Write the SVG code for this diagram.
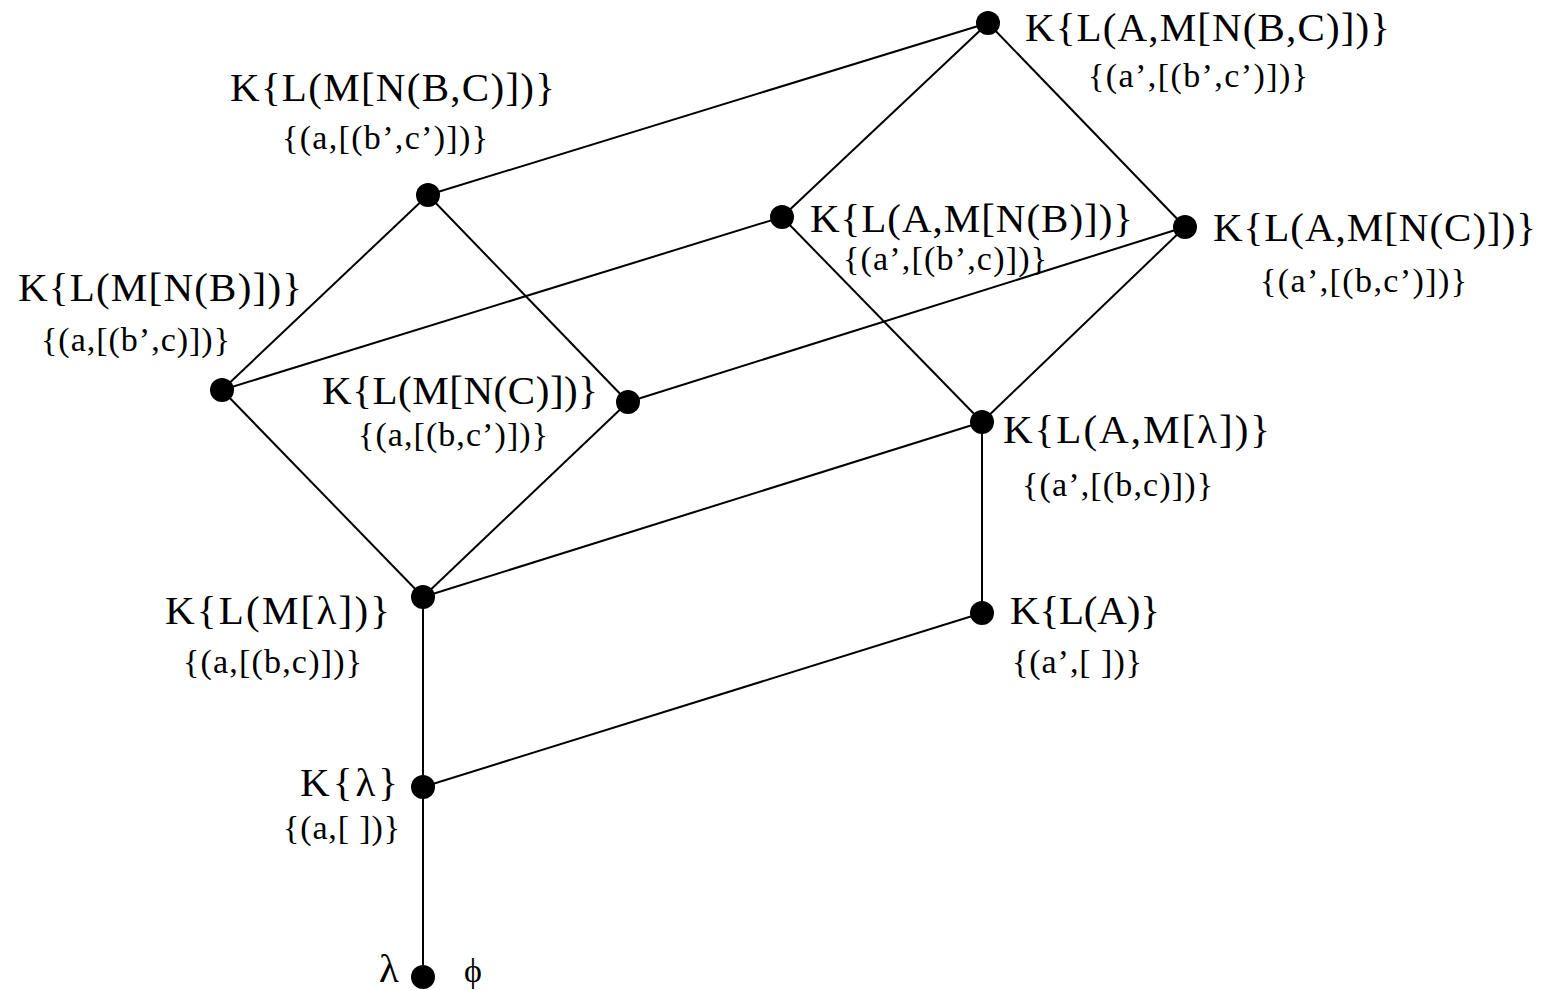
<svg xmlns="http://www.w3.org/2000/svg" width="1545" height="990" viewBox="0 0 1545 990">
  <style>
    .edge { stroke: #000; stroke-width: 2; fill: none; }
    .dot { fill: #000; }
    .lbl { font-family: "Liberation Serif", "Times New Roman", serif; font-size: 41px; fill: #000; }
    .sub { font-family: "Liberation Serif", "Times New Roman", serif; font-size: 34px; fill: #000; }
  </style>
  <rect width="1545" height="990" fill="#fff"/>

  <!-- lattice edges -->
  <g id="edges">
    <line class="edge" x1="988" y1="23" x2="428" y2="195"/>
    <line class="edge" x1="988" y1="23" x2="782" y2="217"/>
    <line class="edge" x1="988" y1="23" x2="1185" y2="227"/>
    <line class="edge" x1="428" y1="195" x2="222" y2="390"/>
    <line class="edge" x1="428" y1="195" x2="628" y2="402"/>
    <line class="edge" x1="782" y1="217" x2="222" y2="390"/>
    <line class="edge" x1="782" y1="217" x2="982" y2="422"/>
    <line class="edge" x1="1185" y1="227" x2="628" y2="402"/>
    <line class="edge" x1="1185" y1="227" x2="982" y2="422"/>
    <line class="edge" x1="222" y1="390" x2="423" y2="597"/>
    <line class="edge" x1="628" y1="402" x2="423" y2="597"/>
    <line class="edge" x1="982" y1="422" x2="423" y2="597"/>
    <line class="edge" x1="982" y1="422" x2="982" y2="613"/>
    <line class="edge" x1="423" y1="597" x2="423" y2="787"/>
    <line class="edge" x1="982" y1="613" x2="423" y2="787"/>
    <line class="edge" x1="423" y1="787" x2="423" y2="977"/>
  </g>

  <g id="n-abc">
    <circle class="dot" cx="988" cy="23" r="12"/>
    <text class="lbl" x="1025" y="41" textLength="365" lengthAdjust="spacing">K{L(A,M[N(B,C)])}</text>
    <text class="sub" x="1088" y="87" textLength="220" lengthAdjust="spacing">{(a’,[(b’,c’)])}</text>
  </g>

  <g id="n-mbc">
    <circle class="dot" cx="428" cy="195" r="12"/>
    <text class="lbl" x="230" y="101" textLength="325" lengthAdjust="spacing">K{L(M[N(B,C)])}</text>
    <text class="sub" x="282" y="149" textLength="206" lengthAdjust="spacing">{(a,[(b’,c’)])}</text>
  </g>

  <g id="n-amb">
    <circle class="dot" cx="782" cy="217" r="12"/>
    <text class="lbl" x="810" y="232" textLength="323" lengthAdjust="spacing">K{L(A,M[N(B)])}</text>
    <text class="sub" x="843" y="270" textLength="204" lengthAdjust="spacing">{(a’,[(b’,c)])}</text>
  </g>

  <g id="n-amc">
    <circle class="dot" cx="1185" cy="227" r="12"/>
    <text class="lbl" x="1213" y="241" textLength="323" lengthAdjust="spacing">K{L(A,M[N(C)])}</text>
    <text class="sub" x="1260" y="292" textLength="207" lengthAdjust="spacing">{(a’,[(b,c’)])}</text>
  </g>

  <g id="n-mb">
    <circle class="dot" cx="222" cy="390" r="12"/>
    <text class="lbl" x="18" y="301" textLength="284" lengthAdjust="spacing">K{L(M[N(B)])}</text>
    <text class="sub" x="41" y="351" textLength="189" lengthAdjust="spacing">{(a,[(b’,c)])}</text>
  </g>

  <g id="n-mc">
    <circle class="dot" cx="628" cy="402" r="12"/>
    <text class="lbl" x="322" y="404" textLength="276" lengthAdjust="spacing">K{L(M[N(C)])}</text>
    <text class="sub" x="358" y="446" textLength="190" lengthAdjust="spacing">{(a,[(b,c’)])}</text>
  </g>

  <g id="n-am">
    <circle class="dot" cx="982" cy="422" r="12"/>
    <text class="lbl" x="1003" y="443" textLength="267" lengthAdjust="spacing">K{L(A,M[λ])}</text>
    <text class="sub" x="1022" y="496" textLength="191" lengthAdjust="spacing">{(a’,[(b,c)])}</text>
  </g>

  <g id="n-m">
    <circle class="dot" cx="423" cy="597" r="12"/>
    <text class="lbl" x="165" y="624" textLength="225" lengthAdjust="spacing">K{L(M[λ])}</text>
    <text class="sub" x="183" y="673" textLength="179" lengthAdjust="spacing">{(a,[(b,c)])}</text>
  </g>

  <g id="n-a">
    <circle class="dot" cx="982" cy="613" r="12"/>
    <text class="lbl" x="1010" y="624" textLength="150" lengthAdjust="spacing">K{L(A)}</text>
    <text class="sub" x="1012" y="673" textLength="130" lengthAdjust="spacing">{(a’,[ ])}</text>
  </g>

  <g id="n-k">
    <circle class="dot" cx="423" cy="787" r="12"/>
    <text class="lbl" x="300" y="796" textLength="98" lengthAdjust="spacing">K{λ}</text>
    <text class="sub" x="283" y="839" textLength="117" lengthAdjust="spacing">{(a,[ ])}</text>
  </g>

  <g id="n-bottom">
    <circle class="dot" cx="423" cy="977" r="12"/>
    <text class="lbl" x="379" y="982">λ</text>
    <text class="sub" x="464" y="982">ϕ</text>
  </g>
</svg>
